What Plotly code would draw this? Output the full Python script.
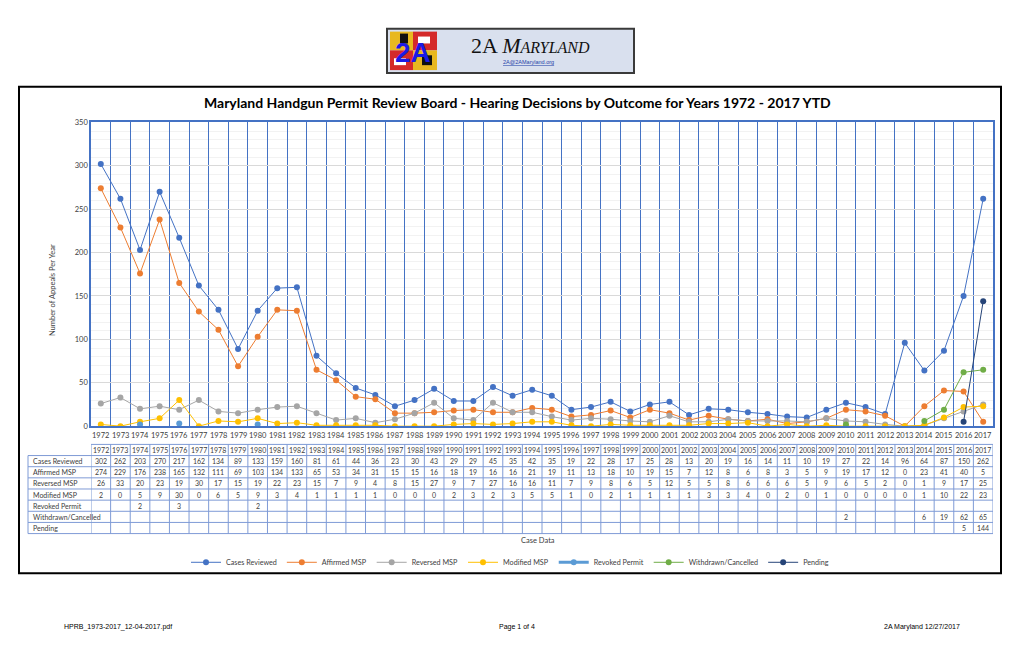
import plotly.graph_objects as go

W, H = 1020, 660

years = list(range(1972, 2018))

cases_reviewed = [302, 262, 203, 270, 217, 162, 134, 89, 133, 159, 160, 81, 61, 44, 36, 23, 30, 43, 29, 29,
                  45, 35, 42, 35, 19, 22, 28, 17, 25, 28, 13, 20, 19, 16, 14, 11, 10, 19, 27, 22, 14, 96,
                  64, 87, 150, 262]
affirmed_msp = [274, 229, 176, 238, 165, 132, 111, 69, 103, 134, 133, 65, 53, 34, 31, 15, 15, 16, 18, 19,
                16, 16, 21, 19, 11, 13, 18, 10, 19, 15, 7, 12, 8, 6, 8, 3, 5, 9, 19, 17, 12, 0, 23, 41, 40, 5]
reversed_msp = [26, 33, 20, 23, 19, 30, 17, 15, 19, 22, 23, 15, 7, 9, 4, 8, 15, 27, 9, 7, 27, 16,
                16, 11, 7, 9, 8, 6, 5, 12, 5, 5, 8, 6, 6, 6, 5, 9, 6, 5, 2, 0, 1, 9, 17, 25]
modified_msp = [2, 0, 5, 9, 30, 0, 6, 5, 9, 3, 4, 1, 1, 1, 1, 0, 0, 0, 2, 3, 2, 3,
                5, 5, 1, 0, 2, 1, 1, 1, 1, 3, 3, 4, 0, 2, 0, 1, 0, 0, 0, 0, 1, 10, 22, 23]
_ = None
revoked_permit = [_, _, 2, _, 3, _, _, _, 2] + [_] * 37
withdrawn_cancelled = [_] * 38 + [2, _, _, _, 6, 19, 62, 65]
pending = [_] * 44 + [5, 144]

series = [
    ("Cases Reviewed", cases_reviewed, "#4472C4", 1),
    ("Affirmed MSP", affirmed_msp, "#ED7D31", 1),
    ("Reversed MSP", reversed_msp, "#A5A5A5", 1),
    ("Modified MSP", modified_msp, "#FFC000", 1),
    ("Revoked Permit", revoked_permit, "#5B9BD5", 3),
    ("Withdrawn/Cancelled", withdrawn_cancelled, "#70AD47", 1),
    ("Pending", pending, "#264478", 1),
]

title_text = "Maryland Handgun Permit Review Board - Hearing Decisions by Outcome for Years 1972 - 2017 YTD"
ytitle = "Number of Appeals Per Year"
xtitle = "Case Data"

FONT = "Lato, 'Open Sans', sans-serif"
TXT = "#404040"
GRIDBLUE = "#4472C4"
TABLINE = "#7F9BD6"


def px(x):
    return x / W


def py(y):
    return 1 - y / H


fig = go.Figure()
for name, vals, color, lw in series:
    fig.add_trace(go.Scatter(
        x=years, y=vals, name=name, mode="lines+markers",
        line=dict(color=color, width=lw), marker=dict(color=color, size=6),
        connectgaps=False,
    ))

boundaries = [y - 0.5 for y in years] + [years[-1] + 0.5]

fig.update_layout(
    width=W, height=H,
    margin=dict(l=0, r=0, t=0, b=0),
    paper_bgcolor="white", plot_bgcolor="white",
    font=dict(family=FONT, color=TXT),
    showlegend=True,
    legend=dict(orientation="h", x=0.5, xanchor="center", y=py(566), yanchor="middle",
                font=dict(size=7.2, color=TXT), itemwidth=30, bgcolor="rgba(0,0,0,0)"),
    xaxis=dict(
        domain=[px(91), px(993)], range=[boundaries[0], boundaries[-1]],
        tickmode="array", tickvals=boundaries, ticktext=[""] * len(boundaries),
        showgrid=True, gridcolor=GRIDBLUE, gridwidth=1, zeroline=False,
        showline=True, linecolor=GRIDBLUE, linewidth=1.5, mirror=True,
        ticks="", anchor="y",
    ),
    yaxis=dict(
        domain=[py(428), py(120)], range=[0, 350], dtick=50,
        tickfont=dict(size=7.5, color=TXT), showgrid=True, gridcolor="#D9D9D9",
        zeroline=False, showline=True, linecolor=GRIDBLUE, linewidth=1.5, mirror=True,
        ticks="", anchor="x",
        minor=dict(dtick=10, showgrid=True, gridcolor="#F2F2F2", gridwidth=1),
    ),
)


def ann(text, x, y, size, xanchor="center", color=TXT, family=FONT, xref="paper", **kw):
    return dict(text=text, x=x, y=y, xref=xref, yref="paper", xanchor=xanchor, yanchor="middle",
                showarrow=False, font=dict(family=family, size=size, color=color), **kw)


annotations = [
    ann("<b>" + title_text + "</b>", px(517), py(100), 14, color="#000000"),
    ann(ytitle, px(52), py(290), 7.5, textangle=-90),
    ann(xtitle, px(538), py(544), 7.5),
    ann("HPRB_1973-2017_12-04-2017.pdf", px(62), py(632), 7, xanchor="left", color="#000",
        family="Liberation Sans"),
    ann("Page 1 of 4", px(517), py(632), 7, color="#000", family="Liberation Sans"),
    ann("2A Maryland 12/27/2017", px(962), py(632), 7, xanchor="right", color="#000",
        family="Liberation Sans"),
    # logo texts
    ann("<b>2A</b>", px(413), py(49), 28, color="#1A1AE6", family="Liberation Sans"),
    ann("2A <i>M<span style='font-size:16px'>ARYLAND</span></i>", px(530), py(42), 22,
        color="#111", family="Liberation Serif"),
    ann("<u>2A@2AMaryland.org</u>", px(528), py(59), 5.5, color="#1F3FA8", family="Liberation Sans"),
]

# x-axis category labels
for yr in years:
    annotations.append(ann(str(yr), yr, py(437), 7.5, xref="x"))

# data table
ROW_TOP = 446.5
ROW_H = 11.3
n_rows = len(series) + 1


def row_c(i):
    return py(ROW_TOP + ROW_H * (i + 0.5))


for yr in years:
    annotations.append(ann(str(yr), yr, row_c(0), 7, xref="x"))
for r, (name, vals, color, lw) in enumerate(series, start=1):
    annotations.append(ann(name, px(31), row_c(r), 7, xanchor="left"))
    for yr, v in zip(years, vals):
        if v is not None:
            annotations.append(ann(str(v), yr, row_c(r), 7, xref="x"))

shapes = []
# horizontal table lines
for k in range(n_rows + 1):
    x0 = px(91) if k == 0 else px(28)
    shapes.append(dict(type="line", xref="paper", yref="paper", x0=x0, x1=px(993),
                       y0=py(ROW_TOP + ROW_H * k), y1=py(ROW_TOP + ROW_H * k),
                       line=dict(color=TABLINE, width=1)))
# vertical table lines
for b in boundaries:
    shapes.append(dict(type="line", xref="x", yref="paper", x0=b, x1=b,
                       y0=py(ROW_TOP), y1=py(ROW_TOP + ROW_H * n_rows),
                       line=dict(color=TABLINE, width=1)))
shapes.append(dict(type="line", xref="paper", yref="paper", x0=px(28), x1=px(28),
                   y0=py(ROW_TOP + ROW_H), y1=py(ROW_TOP + ROW_H * n_rows),
                   line=dict(color=TABLINE, width=1)))

shapes += [
    # outer frame
    dict(type="rect", xref="paper", yref="paper", x0=px(19), x1=px(1001), y0=py(577), y1=py(84),
         line=dict(color="#000", width=2), layer="below"),
    # logo box
    dict(type="rect", xref="paper", yref="paper", x0=px(387), x1=px(634), y0=py(70), y1=py(25),
         line=dict(color="#3a3a3a", width=2), fillcolor="#D9E0EE", layer="below"),
    # flag quadrants
    dict(type="rect", xref="paper", yref="paper", x0=px(390), x1=px(413), y0=py(47), y1=py(28),
         line=dict(width=0), fillcolor="#E8B820", layer="below"),
    dict(type="rect", xref="paper", yref="paper", x0=px(413), x1=px(437), y0=py(47), y1=py(28),
         line=dict(width=0), fillcolor="#D42A2A", layer="below"),
    dict(type="rect", xref="paper", yref="paper", x0=px(390), x1=px(413), y0=py(67), y1=py(47),
         line=dict(width=0), fillcolor="#D42A2A", layer="below"),
    dict(type="rect", xref="paper", yref="paper", x0=px(413), x1=px(437), y0=py(67), y1=py(47),
         line=dict(width=0), fillcolor="#E8B820", layer="below"),
    dict(type="rect", xref="paper", yref="paper", x0=px(400), x1=px(408), y0=py(40), y1=py(30),
         line=dict(width=0), fillcolor="#111", layer="below"),
    dict(type="rect", xref="paper", yref="paper", x0=px(422), x1=px(432), y0=py(62), y1=py(52),
         line=dict(width=0), fillcolor="#111", layer="below"),
    dict(type="rect", xref="paper", yref="paper", x0=px(418), x1=px(430), y0=py(40), y1=py(33),
         line=dict(width=0), fillcolor="#FFFFFF", layer="below"),
    dict(type="rect", xref="paper", yref="paper", x0=px(394), x1=px(406), y0=py(62), y1=py(55),
         line=dict(width=0), fillcolor="#FFFFFF", layer="below"),
]
fig.update_layout(annotations=annotations, shapes=shapes)

fig.write_html("out.html")
